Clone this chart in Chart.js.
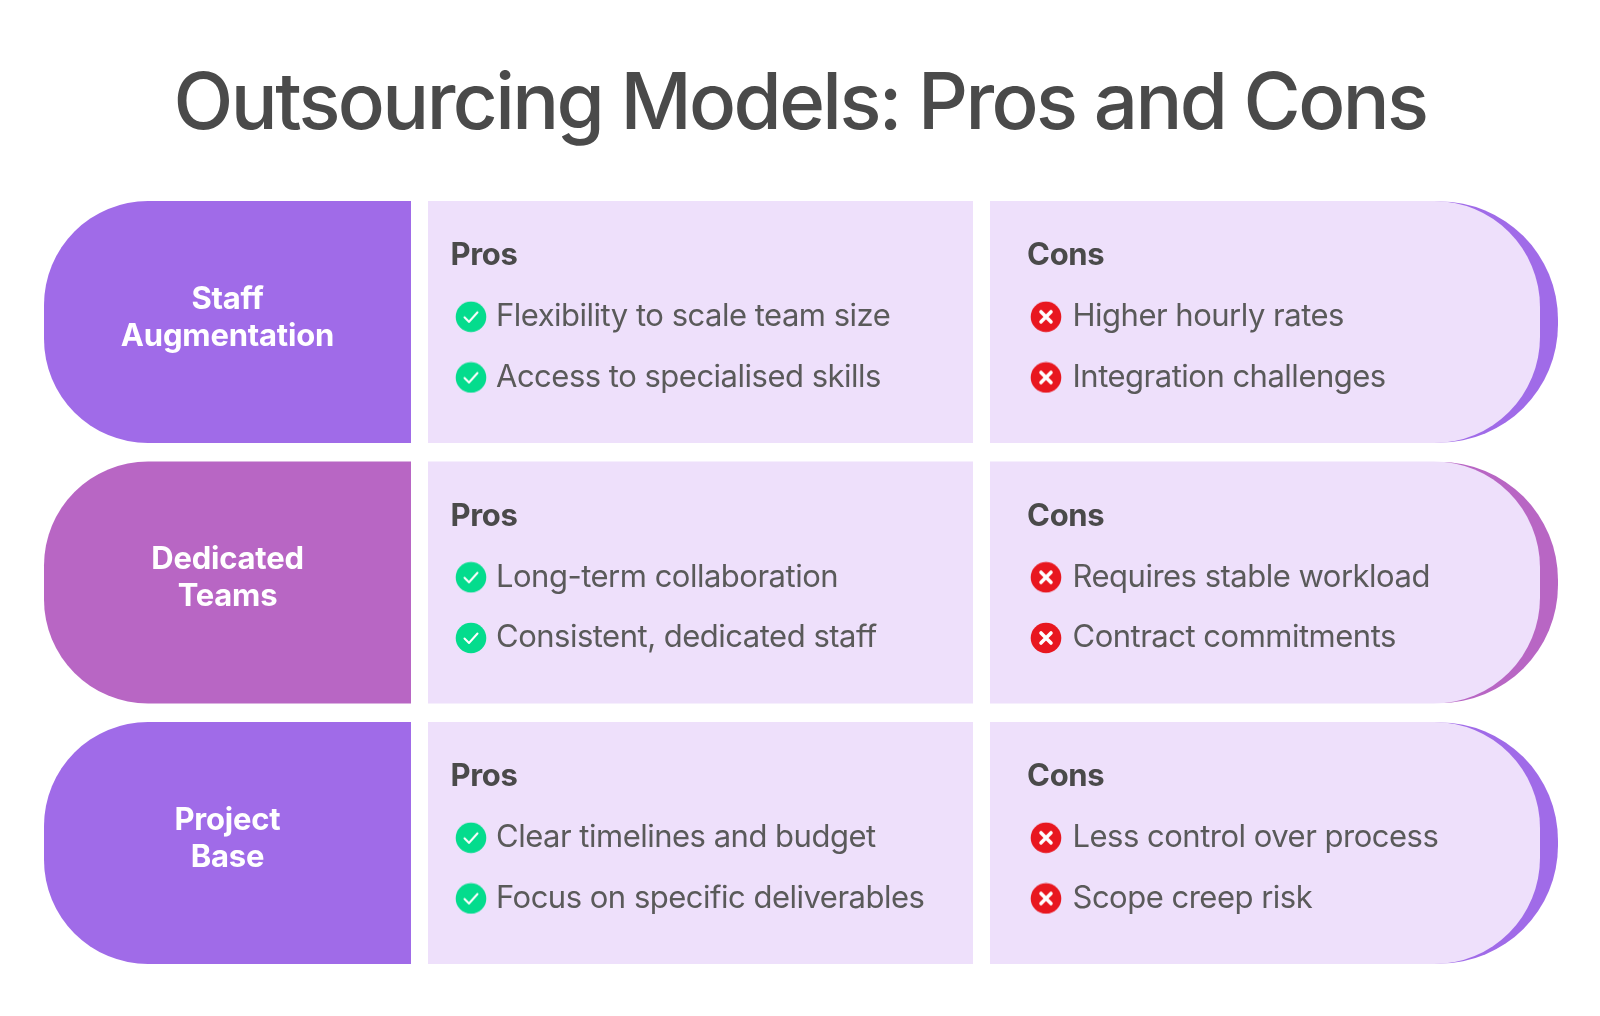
<!DOCTYPE html>
<html>
<head>
<meta charset="utf-8">
<style>
  html, body { margin: 0; background: #fff; }
  canvas { display: block; }
</style>
<script src="https://cdn.jsdelivr.net/npm/chart.js@4"></script>
</head>
<body>
<canvas id="myChart" width="1600" height="1016"></canvas>
<script>
const titleText = 'Outsourcing Models: Pros and Cons';
const models = [['Staff', 'Augmentation'], ['Dedicated', 'Teams'], ['Project', 'Base']];
const pros = [
    ['Flexibility to scale team size', 'Access to specialised skills'],
    ['Long-term collaboration', 'Consistent, dedicated staff'],
    ['Clear timelines and budget', 'Focus on specific deliverables'],
];
const cons = [
    ['Higher hourly rates', 'Integration challenges'],
    ['Requires stable workload', 'Contract commitments'],
    ['Less control over process', 'Scope creep risk'],
];
const columnHeads = ['Pros', 'Cons'];

// layout, in page pixels on the x axis and row fractions on the items axis
const nameCol = [44, 411];
const prosCol = [428, 973];
const consCol = [990, 1540];
const edgeCol = [1300, 1558]; // wide enough for the corner radius, the rest sits under consCol
const headRow = 0.247;
const itemRows = [0.48, 0.713];
const headX = [450.5, 1027];
const iconX = [471, 1046];
const textX = [496, 1072.5];

const purple = '#a06be8';
const magenta = '#b866c4';
const lilac = '#eee0fb';
const rowColors = [purple, magenta, purple];
const fontName = 'Inter, "Noto Sans", sans-serif';

function makeIcon(color, cross) {
    const c = document.createElement('canvas');
    c.width = 32;
    c.height = 32;
    const g = c.getContext('2d');
    g.fillStyle = color;
    g.beginPath();
    g.arc(16, 16, 15.3, 0, Math.PI * 2);
    g.fill();
    g.strokeStyle = '#fff';
    g.lineCap = 'round';
    g.lineJoin = 'round';
    g.beginPath();
    if (cross) {
        g.lineWidth = 3.6;
        g.moveTo(11, 11); g.lineTo(21, 21);
        g.moveTo(21, 11); g.lineTo(11, 21);
    } else {
        g.lineWidth = 2;
        g.moveTo(9.5, 16.5); g.lineTo(14, 21); g.lineTo(22.5, 11.5);
    }
    g.stroke();
    return c;
}

function cellBars(range, colors, radius, order, height = 242) {
    return {
        type: 'bar',
        indexAxis: 'y',
        xAxisID: 'x',
        yAxisID: 'y',
        data: models.map(() => range),
        backgroundColor: colors,
        borderRadius: radius,
        borderSkipped: false,
        grouped: false,
        barPercentage: height / 260.5,
        categoryPercentage: 1,
        order,
    };
}

function iconPoints(col, icon) {
    const points = [];
    models.forEach((m, r) => itemRows.forEach(f => points.push({ x: iconX[col], y: r + f })));
    return {
        type: 'scatter',
        indexAxis: 'x',
        xAxisID: 'x',
        yAxisID: 'items',
        data: points,
        pointStyle: icon,
        pointRadius: 15,
        order: 0,
    };
}

function putText(ctx, text, x, y, font, color, align, spacing) {
    ctx.font = font;
    ctx.fillStyle = color;
    ctx.textAlign = align;
    ctx.textBaseline = 'middle';
    ctx.letterSpacing = spacing + 'px';
    ctx.fillText(text, x, y);
}

const cellText = {
    id: 'cellText',
    beforeDraw(chart) {
        chart.ctx.letterSpacing = '-2.6px';
    },
    afterDatasetsDraw(chart) {
        const { ctx, scales } = chart;
        const px = scales.x;
        const py = scales.items;
        ctx.save();
        models.forEach((lines, r) => {
            const mid = scales.y.getPixelForValue(r);
            lines.forEach((line, i) => {
                putText(ctx, line, px.getPixelForValue((nameCol[0] + nameCol[1]) / 2),
                    mid - 4 + (i - 0.5) * 37, '700 31px ' + fontName, '#fff', 'center', -0.2);
            });
            [pros, cons].forEach((group, col) => {
                putText(ctx, columnHeads[col], px.getPixelForValue(headX[col]),
                    py.getPixelForValue(r + headRow), '700 31px ' + fontName, '#4a4a4a', 'left', -0.3);
                group[r].forEach((item, i) => {
                    putText(ctx, item, px.getPixelForValue(textX[col]),
                        py.getPixelForValue(r + itemRows[i]), '400 31px ' + fontName, '#5a5a5a', 'left', -0.5);
                });
            });
        });
        ctx.restore();
    },
};

new Chart(document.getElementById('myChart'), {
    data: {
        labels: models,
        datasets: [
            iconPoints(0, makeIcon('#04dc8d', false)),
            iconPoints(1, makeIcon('#e8171f', true)),
            cellBars(nameCol, rowColors, { topLeft: 104, bottomLeft: 104 }, 1),
            cellBars(prosCol, lilac, 0, 1),
            cellBars(consCol, lilac, { topRight: 106, bottomRight: 106 }, 1),
            cellBars(edgeCol, rowColors, { topRight: 118, bottomRight: 118 }, 2, 241),
        ],
    },
    options: {
        responsive: false,
        animation: false,
        events: [],
        layout: { autoPadding: false, padding: { left: 0, right: 0, top: 0, bottom: 42.75 } },
        scales: {
            x: { type: 'linear', min: 0, max: 1600, display: false },
            y: { type: 'category', display: false, offset: true },
            items: { type: 'linear', axis: 'y', min: 0, max: models.length, reverse: true, display: false },
        },
        plugins: {
            legend: { display: false },
            tooltip: { enabled: false },
            title: {
                display: true,
                text: titleText,
                color: '#4a4a4a',
                font: { family: fontName, size: 78, weight: '500', lineHeight: 1.2 },
                padding: { top: 59, bottom: 39.15 },
            },
        },
    },
    plugins: [cellText],
});
</script>
</body>
</html>
